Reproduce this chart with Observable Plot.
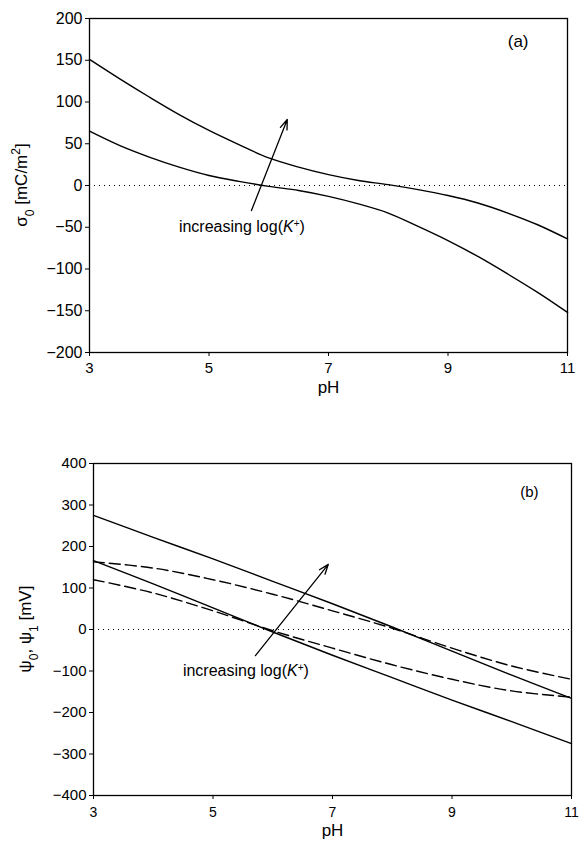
<!DOCTYPE html>
<html>
<head>
<meta charset="utf-8">
<script src="https://cdn.jsdelivr.net/npm/d3@7"></script>
<script src="https://cdn.jsdelivr.net/npm/@observablehq/plot@0.6"></script>
<style>
  body { margin: 0; background: #fff; }
  #chart svg { display: block; }
</style>
</head>
<body>
<div id="chart"></div>
<script>
// ---------- data ----------
const pHa = [3, 3.5, 4, 4.5, 5, 5.5, 6, 6.5, 7, 7.5, 8, 8.5, 9, 9.5, 10, 10.5, 11];
const sigmaHigh = [151, 128, 106, 85, 66, 49, 33, 22, 13, 6, 1, -5, -12, -21, -33, -47, -64];
const sigmaLow  = [65, 48, 34, 22, 12, 5, -1, -6, -13, -22, -33, -49, -66, -85, -106, -128, -152];

const pHb = [3, 4, 5, 6, 7, 8, 9, 10, 11];
const psi0High = [275, 222, 170, 116, 62, 6, -52, -110, -166];
const psi0Low  = [166, 110, 52, -6, -62, -116, -170, -222, -275];
const psi1High = [163, 148, 120, 85, 45, 3, -45, -88, -120];
const psi1Low  = [120, 88, 45, -3, -45, -85, -120, -148, -163];

const xTicks = [3, 5, 7, 9, 11];
const yTicksA = [-200, -150, -100, -50, 0, 50, 100, 150, 200];
const yTicksB = [-400, -300, -200, -100, 0, 100, 200, 300, 400];

// annotations: arrow tail/tip and text position (data coords)
const arrowA = [{x1: 5.71, y1: -30, x2: 6.31, y2: 79}];
const arrowB = [{x1: 5.71, y1: -63, x2: 6.93, y2: 157}];
const noteA = [{x: 5.55, y: -50, t: "increasing log(K+)"}];
const noteB = [{x: 5.55, y: -100, t: "increasing log(K+)"}];

const rows = (xs, ys) => xs.map((x, i) => ({x, y: ys[i]}));
const FONT = "'Liberation Sans', Arial, Helvetica, sans-serif";

function fixNote(svg) {
  d3.select(svg).selectAll("g[aria-label=text] text").each(function () {
    const el = d3.select(this);
    if (el.text() === "increasing log(K+)") {
      el.text(null);
      el.append("tspan").text("increasing log(");
      el.append("tspan").attr("font-style", "italic").text("K");
      el.append("tspan").attr("baseline-shift", "super").attr("font-size", "10px").text("+");
      el.append("tspan").text(")");
    }
  });
}

function yLabel(svg, x, y, parts) {
  const t = d3.select(svg).append("text")
    .attr("transform", `translate(${x},${y}) rotate(-90)`)
    .attr("text-anchor", "middle")
    .attr("font-family", FONT)
    .attr("font-size", "17px")
    .attr("fill", "black");
  for (const [s, kind] of parts) {
    const sp = t.append("tspan").text(s);
    if (kind === "sub") sp.attr("baseline-shift", "sub").attr("font-size", "12px");
    if (kind === "sup") sp.attr("baseline-shift", "super").attr("font-size", "12px");
  }
}

// ---------- panel (a) ----------
const plotA = Plot.plot({
  width: 585, height: 410,
  marginTop: 18, marginLeft: 89, marginRight: 18, marginBottom: 58,
  style: {fontFamily: FONT, fontSize: "15px", color: "black", background: "white"},
  x: {domain: [3, 11]},
  y: {domain: [-200, 200]},
  marks: [
    Plot.ruleY([0], {stroke: "black", strokeWidth: 1, strokeDasharray: "1,4"}),
    Plot.line(rows(pHa, sigmaHigh), {x: "x", y: "y", stroke: "black", strokeWidth: 1.4, curve: "catmull-rom"}),
    Plot.line(rows(pHa, sigmaLow), {x: "x", y: "y", stroke: "black", strokeWidth: 1.4, curve: "catmull-rom"}),
    Plot.arrow(arrowA, {x1: "x1", y1: "y1", x2: "x2", y2: "y2", stroke: "black", strokeWidth: 1.3, headLength: 12, headAngle: 40}),
    Plot.text(noteA, {x: "x", y: "y", text: "t", fontSize: 16, fill: "black"}),
    Plot.text(["(a)"], {frameAnchor: "top-right", dx: -39, dy: 16, fontSize: 17, fill: "black"}),
    Plot.text(["pH"], {frameAnchor: "bottom", dy: 40, fontSize: 17, fill: "black"}),
    Plot.axisX({ticks: xTicks, tickSize: 4, tickPadding: 6, label: null, fontSize: 15}),
    Plot.axisY({ticks: yTicksA, tickSize: 4, tickPadding: 3, label: null, fontSize: 16}),
    Plot.frame({stroke: "black", strokeWidth: 1.3})
  ]
});
fixNote(plotA);
yLabel(plotA, 27, 185, [["σ", ""], ["0", "sub"], [" [mC/m", ""], ["2", "sup"], ["]", ""]]);

// ---------- panel (b) ----------
const plotB = Plot.plot({
  width: 585, height: 442,
  marginTop: 53, marginLeft: 93, marginRight: 14, marginBottom: 57,
  style: {fontFamily: FONT, fontSize: "14px", color: "black", background: "white"},
  x: {domain: [3, 11]},
  y: {domain: [-400, 400]},
  marks: [
    Plot.ruleY([0], {stroke: "black", strokeWidth: 1, strokeDasharray: "1,4"}),
    Plot.line(rows(pHb, psi1High), {x: "x", y: "y", stroke: "black", strokeWidth: 1.4, strokeDasharray: "11,5", curve: "catmull-rom"}),
    Plot.line(rows(pHb, psi1Low), {x: "x", y: "y", stroke: "black", strokeWidth: 1.4, strokeDasharray: "11,5", curve: "catmull-rom"}),
    Plot.line(rows(pHb, psi0High), {x: "x", y: "y", stroke: "black", strokeWidth: 1.4, curve: "catmull-rom"}),
    Plot.line(rows(pHb, psi0Low), {x: "x", y: "y", stroke: "black", strokeWidth: 1.4, curve: "catmull-rom"}),
    Plot.arrow(arrowB, {x1: "x1", y1: "y1", x2: "x2", y2: "y2", stroke: "black", strokeWidth: 1.3, headLength: 12, headAngle: 40}),
    Plot.text(noteB, {x: "x", y: "y", text: "t", fontSize: 16, fill: "black"}),
    Plot.text(["(b)"], {frameAnchor: "top-right", dx: -33, dy: 23, fontSize: 15, fill: "black"}),
    Plot.text(["pH"], {frameAnchor: "bottom", dy: 40, fontSize: 17, fill: "black"}),
    Plot.axisX({ticks: xTicks, tickSize: 4, tickPadding: 8, label: null, fontSize: 14}),
    Plot.axisY({ticks: yTicksB, tickSize: 4, tickPadding: 3, label: null, fontSize: 15}),
    Plot.frame({stroke: "black", strokeWidth: 1.3})
  ]
});
fixNote(plotB);
yLabel(plotB, 31, 629 - 410, [["ψ", ""], ["0", "sub"], [", ψ", ""], ["1", "sub"], [" [mV]", ""]]);

document.getElementById("chart").append(plotA, plotB);
</script>
</body>
</html>
